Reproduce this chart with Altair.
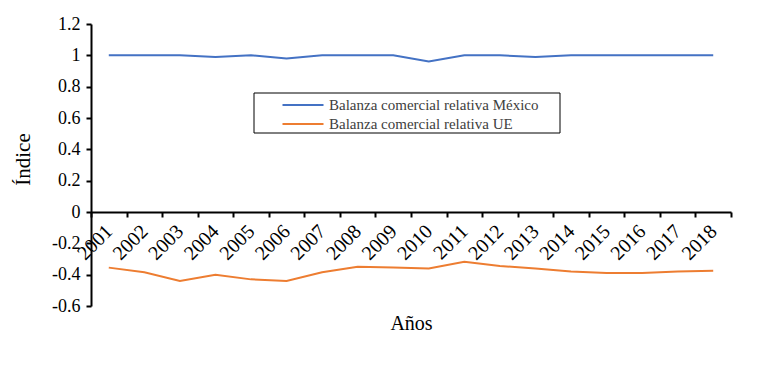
import altair as alt
import pandas as pd

years = [str(y) for y in range(2001, 2019)]
mexico = [1.0, 1.0, 1.0, 0.99, 1.0, 0.98, 1.0, 1.0, 1.0, 0.96, 1.0, 1.0, 0.99, 1.0, 1.0, 1.0, 1.0, 1.0]
ue = [-0.355, -0.385, -0.44, -0.40, -0.43, -0.44, -0.385, -0.35, -0.355, -0.36, -0.317, -0.345, -0.36, -0.38, -0.39, -0.39, -0.38, -0.375]
series_names = ["Balanza comercial relativa México", "Balanza comercial relativa UE"]
colors = ["#4472C4", "#ED7D31"]
y_ticks = [-0.6, -0.4, -0.2, 0, 0.2, 0.4, 0.6, 0.8, 1, 1.2]

rows = []
for i, yr in enumerate(years):
    rows.append({"Año": yr, "Serie": series_names[0], "Valor": mexico[i]})
    rows.append({"Año": yr, "Serie": series_names[1], "Valor": ue[i]})
df = pd.DataFrame(rows)

FONT = "Liberation Serif"
W, H = 640, 282

# legend frame (decoration)
frame = alt.Chart(pd.DataFrame({"k": [0]})).mark_rect(
    fill="white", stroke="black", strokeWidth=1
).encode(x=alt.value(163), x2=alt.value(469), y=alt.value(69), y2=alt.value(109))

lines = alt.Chart(df).mark_line(strokeWidth=2).encode(
    x=alt.X("Año:O", scale=alt.Scale(type="band", paddingInner=0, paddingOuter=0),
            axis=alt.Axis(title="Años", offset=-94, tickBand="extent", labelAngle=-45,
                          labelAlign="right", labelBaseline="middle", labelFont=FONT,
                          labelFontSize=20, labelColor="black", labelPadding=11,
                          domainColor="black", domainWidth=2, tickColor="black",
                          tickWidth=2, tickSize=5, titleFont=FONT, titleFontSize=20,
                          titleFontWeight="normal", titleColor="black",
                          titleX=W / 2, titleY=111, titleAlign="center",
                          titleBaseline="middle", grid=False)),
    y=alt.Y("Valor:Q", scale=alt.Scale(domain=[-0.6, 1.2], nice=False, zero=False),
            axis=alt.Axis(title="Índice", values=y_ticks, labelExpr="'' + datum.value",
                          labelFont=FONT, labelFontSize=18, labelColor="black",
                          labelPadding=6, domainColor="black", domainWidth=2,
                          tickColor="black", tickWidth=2, tickSize=5, grid=False,
                          titleFont=FONT, titleFontSize=21, titleFontWeight="normal",
                          titleColor="black", titleX=-68, titleY=H / 2 - 6,
                          titleAngle=-90, titleAlign="center", titleBaseline="middle")),
    color=alt.Color("Serie:N", scale=alt.Scale(domain=series_names, range=colors),
                    legend=alt.Legend(title=None, orient="none", legendX=163, legendY=69,
                                      symbolType="M-2.05,0H2.05", symbolSize=400,
                                      symbolStrokeWidth=2, symbolOffset=37,
                                      labelFont=FONT, labelFontSize=15,
                                      labelColor="#404040", labelOffset=15,
                                      labelLimit=400, padding=1, rowPadding=0)),
)

chart = alt.layer(frame, lines).properties(
    width=W, height=H,
    autosize=alt.AutoSizeParams(type="none"),
    padding={"left": 83, "top": 16, "right": 30, "bottom": 70},
).configure_view(stroke=None).configure_legend(labelFont=FONT)

chart.save("out.html", embed_options={"renderer": "svg", "actions": False})
